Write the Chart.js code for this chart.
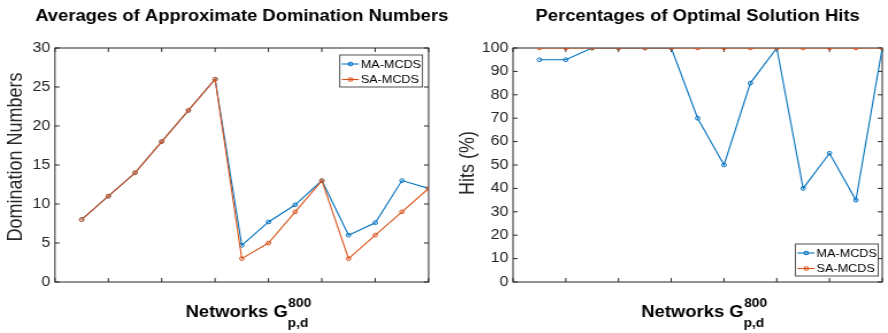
<!DOCTYPE html>
<html>
<head>
<meta charset="utf-8">
<script src="https://cdn.jsdelivr.net/npm/chart.js@4.4.1/dist/chart.umd.min.js"></script>
<style>
    html, body { margin: 0; padding: 0; background: #fff; }
    #wrap { position: relative; width: 888px; height: 333px; overflow: hidden; background: #fff; }
    #wrap canvas { position: absolute; top: 0; }
</style>
</head>
<body>
<div id="wrap">
    <!-- drawn narrower and stretched, like the resized matlab figure (444/386) -->
    <canvas id="hits-chart" width="386" height="333" style="left:444px;width:444px;height:333px"></canvas>
    <canvas id="dom-chart" width="409" height="333" style="left:0;width:470.46px;height:333px"></canvas>
</div>
<script>
// networks 1..14
var networks = [1, 2, 3, 4, 5, 6, 7, 8, 9, 10, 11, 12, 13, 14];
var netTicks = [0, 2, 4, 6, 8, 10, 12, 14];
var seriesNames = ['MA-MCDS', 'SA-MCDS'];

// averages of approximate domination numbers
var domMA = [8, 11, 14, 18, 22, 26, 4.7, 7.7, 9.9, 13, 6, 7.6, 13, 12];
var domSA = [8, 11, 14, 18, 22, 26, 3, 5, 9, 13, 3, 6, 9, 12];
var domTicks = [0, 5, 10, 15, 20, 25, 30];

// percentages of optimal solution hits
var hitsMA = [95, 95, 100, 100, 100, 100, 70, 50, 85, 100, 40, 55, 35, 100];
var hitsSA = [100, 100, 100, 100, 100, 100, 100, 100, 100, 100, 100, 100, 100, 100];
var hitsTicks = [0, 10, 20, 30, 40, 50, 60, 70, 80, 90, 100];

var blue = '#0072BD', orange = '#D95319', axisColor = '#262626';
var FONT = '"Liberation Sans", Arial, Helvetica, sans-serif';

var framePlugin = {
    id: 'frame',
    beforeDatasetsDraw: function(chart, args, o) {
        var ctx = chart.ctx, a = chart.chartArea;
        var xs = chart.scales.x, ys = chart.scales.y;
        ctx.save();
        ctx.strokeStyle = axisColor;
        ctx.lineWidth = 1;
        ctx.strokeRect(a.left, a.top, a.right - a.left, a.bottom - a.top);
        ctx.beginPath();
        netTicks.forEach(function(v) {
            var px = xs.getPixelForValue(v);
            ctx.moveTo(px, a.bottom); ctx.lineTo(px, a.bottom - 4);
            ctx.moveTo(px, a.top); ctx.lineTo(px, a.top + 4);
        });
        o.yTicks.forEach(function(v) {
            var py = ys.getPixelForValue(v);
            ctx.moveTo(a.left, py); ctx.lineTo(a.left + 4, py);
            ctx.moveTo(a.right, py); ctx.lineTo(a.right - 4, py);
        });
        ctx.stroke();
        ctx.restore();
    },
    afterDraw: function(chart, args, o) {
        var ctx = chart.ctx, a = chart.chartArea;
        var cx = (a.left + a.right) / 2;
        ctx.save();

        // title
        ctx.fillStyle = '#000';
        ctx.font = 'bold 16px ' + FONT;
        ctx.textAlign = 'center';
        ctx.textBaseline = 'alphabetic';
        ctx.fillText(o.title, cx, 21);

        // y label
        ctx.save();
        ctx.translate(o.ylabelX, o.ylabelY);
        ctx.rotate(-Math.PI / 2);
        ctx.font = '18px ' + FONT;
        ctx.fillStyle = axisColor;
        ctx.fillText(o.ylabel, 0, 0);
        ctx.restore();

        // x label  Networks G^800_p,d
        ctx.textAlign = 'left';
        ctx.fillStyle = '#000';
        ctx.font = 'bold 16px ' + FONT;
        var main = 'Networks G', wMain = ctx.measureText(main).width;
        ctx.font = 'bold 12px ' + FONT;
        var wSup = ctx.measureText('800').width, wSub = ctx.measureText('p,d').width;
        var x0 = cx + 5.5 - (wMain + Math.max(wSup, wSub)) / 2;
        ctx.font = 'bold 16px ' + FONT;
        ctx.fillText(main, x0, 317);
        ctx.font = 'bold 12px ' + FONT;
        ctx.fillText('800', x0 + wMain + 0.5, 307);
        ctx.fillText('p,d', x0 + wMain, 327);

        // legend box
        var lg = o.legend, w = 72, h = 32;
        var lx = a.right - lg.dx - w;
        var ly = lg.top ? a.top + lg.dy : a.bottom - lg.dy - h;
        ctx.fillStyle = '#fff';
        ctx.fillRect(lx, ly, w, h);
        ctx.strokeStyle = axisColor;
        ctx.lineWidth = 0.8;
        ctx.strokeRect(lx, ly, w, h);
        ctx.font = '11px ' + FONT;
        ctx.textBaseline = 'middle';
        [blue, orange].forEach(function(c, i) {
            var ry = ly + 9 + i * 15.5;
            ctx.strokeStyle = c;
            ctx.lineWidth = 1.1;
            ctx.beginPath();
            ctx.moveTo(lx + 1.7, ry); ctx.lineTo(lx + 16.5, ry);
            ctx.stroke();
            ctx.beginPath();
            ctx.arc(lx + 9.3, ry, 1.8, 0, Math.PI * 2);
            ctx.stroke();
            ctx.fillStyle = '#000';
            ctx.fillText(seriesNames[i], lx + 18.2, ry + 0.5);
        });
        ctx.restore();
    }
};

function lineSet(name, values, color, order) {
    return {
        label: name,
        data: networks.map(function(n, i) { return { x: n, y: values[i] }; }),
        borderColor: color,
        backgroundColor: color,
        borderWidth: 1.1,
        pointRadius: 1.9,
        pointBorderWidth: 1,
        pointBackgroundColor: 'rgba(0,0,0,0)',
        pointBorderColor: color,
        tension: 0,
        order: order
    };
}

function makeChart(id, ma, sa, yTicks, o) {
    return new Chart(document.getElementById(id), {
        type: 'line',
        data: {
            datasets: [lineSet(seriesNames[0], ma, blue, 2), lineSet(seriesNames[1], sa, orange, 1)]
        },
        options: {
            responsive: false,
            animation: false,
            devicePixelRatio: 1,
            layout: { padding: { top: 48, right: o.padRight, left: 0, bottom: 0 } },
            plugins: {
                legend: { display: false },
                tooltip: { enabled: false },
                frame: o
            },
            scales: {
                x: {
                    type: 'linear',
                    min: 0,
                    max: 14,
                    grid: { display: false, drawTicks: false },
                    border: { display: false },
                    ticks: { display: false },
                    afterFit: function(s) { s.height = 51; }
                },
                y: {
                    min: yTicks[0],
                    max: yTicks[yTicks.length - 1],
                    afterBuildTicks: function(s) {
                        s.ticks = yTicks.map(function(v) { return { value: v }; });
                    },
                    grid: { display: false, drawTicks: false },
                    border: { display: false },
                    ticks: { font: { family: FONT, size: 14 }, color: axisColor, padding: 4, autoSkip: false },
                    afterFit: function(s) { s.width = o.plotLeft; }
                }
            }
        },
        plugins: [framePlugin]
    });
}

makeChart('dom-chart', domMA, domSA, domTicks, {
    title: 'Averages of Approximate Domination Numbers',
    ylabel: 'Domination Numbers',
    ylabelX: 19.1, ylabelY: 157,
    yTicks: domTicks,
    plotLeft: 47.8,
    padRight: 36,
    legend: { top: true, dx: 5.3, dy: 7 }
});

makeChart('hits-chart', hitsMA, hitsSA, hitsTicks, {
    title: 'Percentages of Optimal Solution Hits',
    ylabel: 'Hits (%)',
    ylabelX: 26.1, ylabelY: 163,
    yTicks: hitsTicks,
    plotLeft: 60,
    padRight: 1,
    legend: { top: false, dx: 3.4, dy: 6 }
});
</script>
</body>
</html>
